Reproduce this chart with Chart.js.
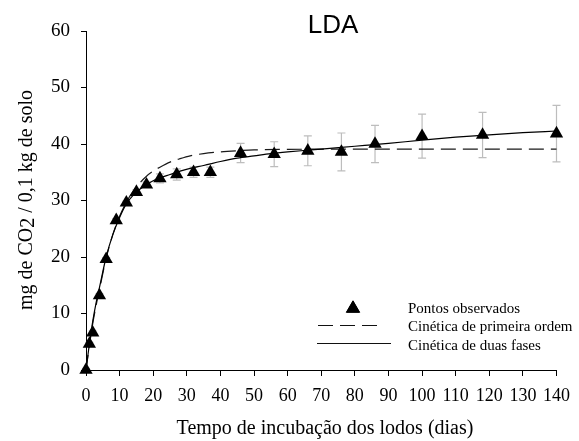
<!DOCTYPE html>
<html>
<head>
<meta charset="utf-8">
<script src="https://cdn.jsdelivr.net/npm/chart.js@4/dist/chart.umd.min.js"></script>
<style>
  html, body { margin: 0; padding: 0; background: #fff; }
  #wrap { width: 579px; height: 441px; }
</style>
</head>
<body>
<div id="wrap"><canvas id="c" width="579" height="441"></canvas></div>
<script>
// Observed CO2 release (mg / 0.1 kg soil) by incubation day, with spread
const days = [0, 1, 2, 4, 6, 9, 12, 15, 18, 22, 27, 32, 37, 46, 56, 66, 76, 86, 100, 118, 140];
const observed = [0, 4.6, 6.6, 13.2, 19.6, 26.5, 29.6, 31.5, 32.8, 33.9, 34.6, 35.0, 35.0, 38.4, 38.2, 38.8, 38.6, 40.0, 41.4, 41.6, 41.85];
const spread = [0.3, 0.3, 0.3, 0.3, 0.3, 0.3, 0.3, 0.4, 0.5, 0.8, 1.0, 0.9, 0.9, 1.7, 2.2, 2.65, 3.35, 3.3, 3.9, 4.0, 5.0];

// First-order kinetic curve
const firstOrderT = [0, 1, 2, 3, 4, 6, 8, 10, 12, 14, 16, 18, 20, 22, 25, 28, 31, 35, 40, 45, 50, 60, 80, 100, 120, 140];
const firstOrderY = [0, 4.3, 8.2, 11.4, 14.2, 19.8, 24.0, 27.2, 29.7, 31.6, 33.1, 34.3, 35.2, 35.9, 36.8, 37.4, 37.9, 38.3, 38.6, 38.8, 38.95, 39.05, 39.1, 39.1, 39.1, 39.1];

// Two-phase kinetic curve
const twoPhaseT = [0, 1, 2, 3, 4, 6, 8, 10, 12, 14, 16, 18, 20, 22, 25, 28, 31, 35, 40, 45, 50, 55, 60, 66, 70, 76, 80, 86, 90, 100, 110, 120, 130, 140];
const twoPhaseY = [0, 4.6, 8.6, 11.9, 14.6, 20.0, 24.0, 27.0, 29.4, 30.9, 32.0, 32.8, 33.5, 34.0, 34.6, 35.2, 35.7, 36.2, 36.9, 37.5, 37.9, 38.3, 38.6, 38.9, 39.1, 39.4, 39.6, 39.9, 40.1, 40.7, 41.2, 41.6, 42.0, 42.3];

const xTicks = [0, 10, 20, 30, 40, 50, 60, 70, 80, 90, 100, 110, 120, 130, 140];
const yTicks = [0, 10, 20, 30, 40, 50, 60];

const titleText = 'LDA';
const xTitle = 'Tempo de incubação dos lodos (dias)';
const yTitleParts = ['mg de CO', '2', ' / 0,1 kg de solo'];
const legendLabels = ['Pontos observados', 'Cinética de primeira ordem', 'Cinética de duas fases'];

const serif = '"Liberation Serif", "Times New Roman", serif';
const sans = '"Liberation Sans", Arial, sans-serif';

const pairs = (xs, ys) => xs.map((x, i) => ({ x: x, y: ys[i] }));

// Gray whiskers under the observed triangles
const errorBars = {
  id: 'errorBars',
  beforeDatasetsDraw(chart) {
    const { ctx, scales: { x, y } } = chart;
    ctx.save();
    ctx.strokeStyle = '#bdbdbd';
    ctx.lineWidth = 1.2;
    days.forEach((d, i) => {
      const px = x.getPixelForValue(d);
      const top = y.getPixelForValue(observed[i] + spread[i]);
      const bot = y.getPixelForValue(observed[i] - spread[i]);
      ctx.beginPath();
      ctx.moveTo(px, top); ctx.lineTo(px, bot);
      ctx.moveTo(px - 4, top); ctx.lineTo(px + 4, top);
      ctx.moveTo(px - 4, bot); ctx.lineTo(px + 4, bot);
      ctx.stroke();
    });
    ctx.restore();
  }
};

// Title, axis titles and the legend box
const decorations = {
  id: 'decorations',
  afterDraw(chart) {
    const { ctx, chartArea: a } = chart;
    ctx.save();
    ctx.fillStyle = '#000';

    ctx.font = '26px ' + sans;
    ctx.textAlign = 'center';
    ctx.textBaseline = 'alphabetic';
    ctx.fillText(titleText, 333, 33);

    ctx.font = '20px ' + serif;
    ctx.fillText(xTitle, 325, 434);

    // rotated y title with a lowered "2"
    ctx.save();
    ctx.translate(32, 200);
    ctx.rotate(-Math.PI / 2);
    ctx.textAlign = 'left';
    const w0 = ctx.measureText(yTitleParts[0]).width;
    const w1 = ctx.measureText(yTitleParts[1]).width;
    const w2 = ctx.measureText(yTitleParts[2]).width;
    let sx = -(w0 + w1 + w2) / 2;
    ctx.fillText(yTitleParts[0], sx, 0);
    ctx.fillText(yTitleParts[1], sx + w0, 2);
    ctx.fillText(yTitleParts[2], sx + w0 + w1, 0);
    ctx.restore();

    // legend
    const lx = a.left + 232;
    const tx = a.left + 322;
    ctx.font = '15px ' + serif;
    ctx.textAlign = 'left';
    ctx.textBaseline = 'alphabetic';

    Chart.helpers.drawPoint(ctx, { pointStyle: 'triangle', radius: 7.7, borderWidth: 1 }, a.left + 267, 308.5);
    ctx.fillStyle = '#000';
    ctx.fill();
    ctx.fillText(legendLabels[0], tx, 312.5);

    ctx.strokeStyle = '#111';
    ctx.lineWidth = 1.2;
    ctx.setLineDash([15, 7]);
    ctx.beginPath(); ctx.moveTo(lx, 325.5); ctx.lineTo(lx + 64, 325.5); ctx.stroke();
    ctx.fillText(legendLabels[1], tx, 331);

    ctx.setLineDash([]);
    ctx.beginPath(); ctx.moveTo(lx - 1, 343.5); ctx.lineTo(lx + 73, 343.5); ctx.stroke();
    ctx.fillText(legendLabels[2], tx, 349.5);
    ctx.restore();
  }
};

new Chart(document.getElementById('c'), {
  type: 'scatter',
  data: {
    datasets: [
      {
        label: legendLabels[0],
        data: pairs(days, observed),
        pointStyle: 'triangle',
        pointRadius: 7.7,
        pointHoverRadius: 7.7,
        backgroundColor: '#000',
        borderColor: '#000',
        borderWidth: 0,
        showLine: false,
        clip: false
      },
      {
        label: legendLabels[2],
        data: pairs(twoPhaseT, twoPhaseY),
        showLine: true,
        pointRadius: 0,
        borderColor: '#000',
        borderWidth: 1.2,
        cubicInterpolationMode: 'monotone',
        clip: false
      },
      {
        label: legendLabels[1],
        data: pairs(firstOrderT, firstOrderY),
        showLine: true,
        pointRadius: 0,
        borderColor: '#1a1a1a',
        borderWidth: 1.2,
        borderDash: [15, 7],
        cubicInterpolationMode: 'monotone',
        clip: false
      }
    ]
  },
  options: {
    responsive: false,
    animation: false,
    events: [],
    layout: { padding: { top: 31, right: 14, left: 0, bottom: 0 } },
    plugins: { legend: { display: false }, tooltip: { enabled: false }, title: { display: false } },
    scales: {
      x: {
        type: 'linear',
        min: 0, max: 140,
        afterFit(s) { s.height = 71; },
        afterBuildTicks(s) { s.ticks = xTicks.map(v => ({ value: v })); },
        ticks: { color: '#000', font: { family: serif, size: 18 }, padding: 9, maxRotation: 0, autoSkip: false },
        grid: { display: true, drawOnChartArea: false, drawTicks: true, tickLength: 6, color: '#000', lineWidth: 1 },
        border: { display: true, color: '#000', width: 1 }
      },
      y: {
        type: 'linear',
        min: 0, max: 60,
        afterFit(s) { s.width = 86; },
        afterBuildTicks(s) { s.ticks = yTicks.map(v => ({ value: v })); },
        ticks: { color: '#000', font: { family: serif, size: 19 }, padding: 11, autoSkip: false },
        grid: { display: true, drawOnChartArea: false, drawTicks: true, tickLength: 5, color: '#000', lineWidth: 1 },
        border: { display: true, color: '#000', width: 1 }
      }
    }
  },
  plugins: [errorBars, decorations]
});
</script>
</body>
</html>
